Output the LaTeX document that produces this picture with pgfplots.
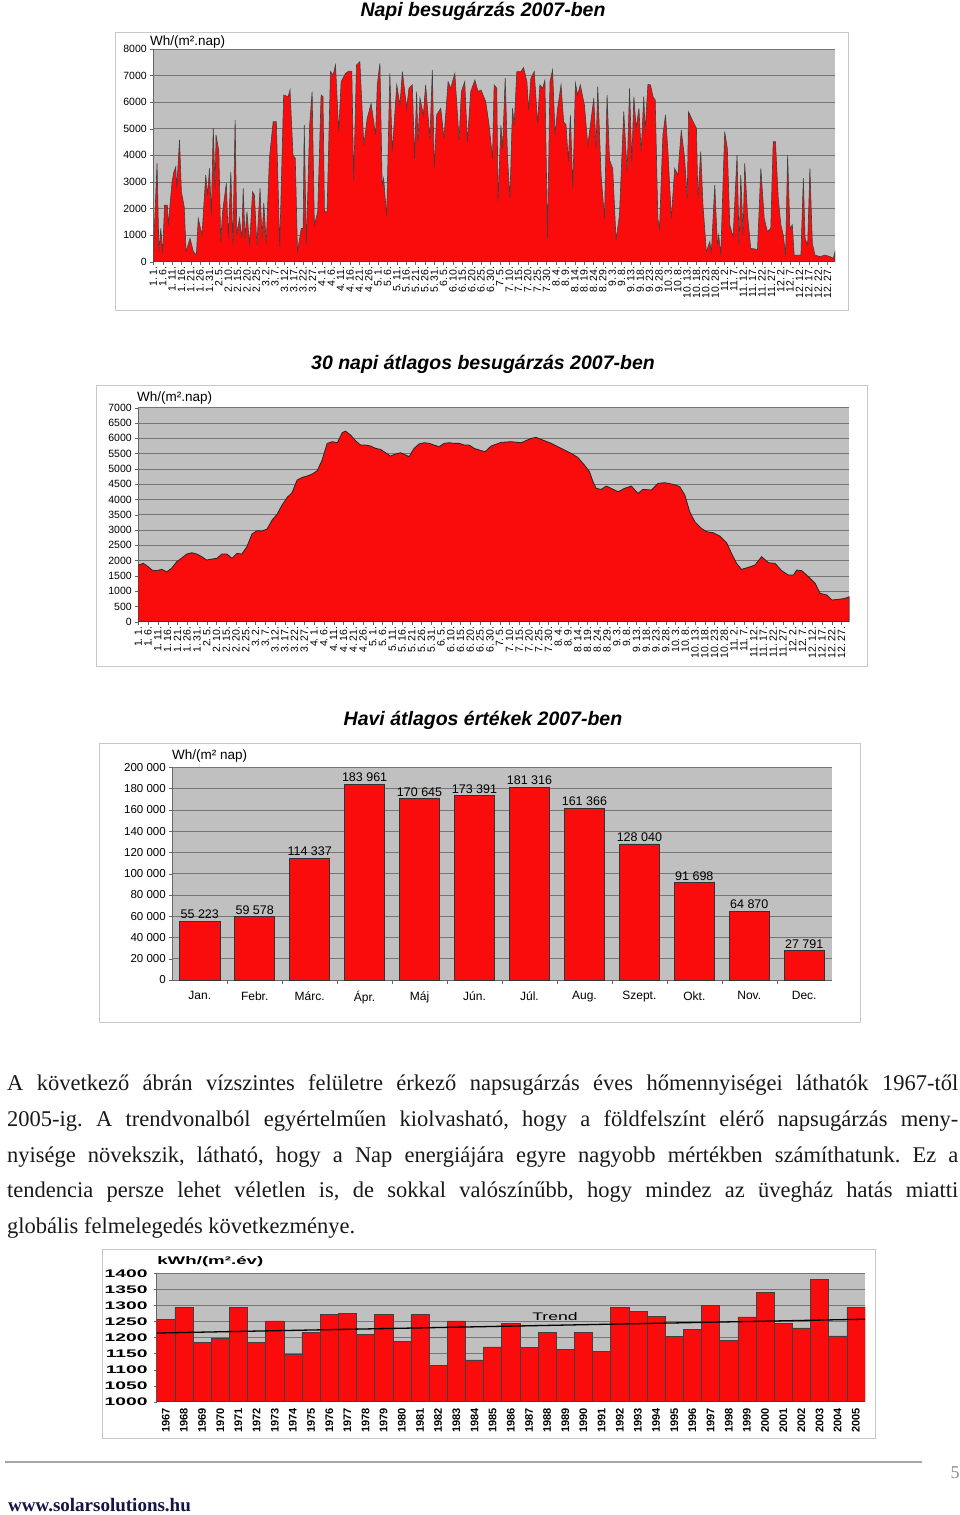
\documentclass[border=0pt]{standalone}
\usepackage{pgfplots}
\pgfplotsset{compat=1.18}
\usepackage{fontspec}
\setmainfont{Liberation Serif}
\newfontfamily\arial{Liberation Sans}
\frenchspacing

\definecolor{xred}{RGB}{250,12,12}
\definecolor{plotgray}{RGB}{192,192,192}
\definecolor{gridgray}{RGB}{118,118,118}
\definecolor{boxgray}{RGB}{200,200,200}

\newcommand{\cf}[1]{\arial\fontsize{#1}{#1}\selectfont}

\pgfplotsset{
  chart/.style={scale only axis, anchor=south west,
    axis background/.style={fill=plotgray},
    axis lines*=left, axis line style={draw=black!60, line width=0.6pt},
    ymajorgrids, grid style={draw=gridgray, line width=0.7pt},
    tick align=outside, tick style={draw=black!60}, major tick length=3pt,
    /pgf/number format/1000 sep={}, /pgf/number format/assume math mode=true,
    tick label style={text=black}},
  datelabels/.style={xtick={0,5,...,360},
    xticklabels={{1. 1.},{1. 6.},{1. 11.},{1. 16.},{1. 21.},{1. 26.},{1. 31.},{2. 5.},{2. 10.},{2. 15.},{2. 20.},{2. 25.},{3. 2.},{3. 7.},{3. 12.},{3. 17.},{3. 22.},{3. 27.},{4. 1.},{4. 6.},{4. 11.},{4. 16.},{4. 21.},{4. 26.},{5. 1.},{5. 6.},{5. 11.},{5. 16.},{5. 21.},{5. 26.},{5. 31.},{6. 5.},{6. 10.},{6. 15.},{6. 20.},{6. 25.},{6. 30.},{7. 5.},{7. 10.},{7. 15.},{7. 20.},{7. 25.},{7. 30.},{8. 4.},{8. 9.},{8. 14.},{8. 19.},{8. 24.},{8. 29.},{9. 3.},{9. 8.},{9. 13.},{9. 18.},{9. 23.},{9. 28.},{10. 3.},{10. 8.},{10. 13.},{10. 18.},{10. 23.},{10. 28.},{11. 2.},{11. 7.},{11. 12.},{11. 17.},{11. 22.},{11. 27.},{12. 2.},{12. 7.},{12. 12.},{12. 17.},{12. 22.},{12. 27.}},
    x tick label style={rotate=90, anchor=east, font=\cf{10.5}, inner sep=1.5pt}},
}

\begin{document}
\begin{tikzpicture}
\path[use as bounding box, fill=white] (0pt,0pt) rectangle (960pt,-1515pt);

% ---------- 1: daily ----------
\node[font=\cf{19.5}\bfseries\itshape] at (483pt,-11pt) {Napi besugárzás 2007-ben};
\draw[boxgray, line width=1pt] (115pt,-32pt) rectangle (848pt,-310pt);
\node[anchor=base west, font=\cf{13.5}, inner sep=0] at (150pt,-45pt) {Wh/(m².nap)};
\begin{axis}[chart, datelabels, at={(153.3pt,-261.7pt)}, width=681.7pt, height=212.7pt,
  xmin=0, xmax=364, ymin=0, ymax=8000, ytick={0,1000,...,8000},
  y tick label style={font=\cf{10.5}}]
\addplot[fill=xred, draw=black!75, line width=0.6pt] coordinates {
(0,250)(2,3700)(3,380)(4,1250)(5,310)(6,2130)(7.5,2130)(8,1380)(10,3000)(11,3380)(12,3570)(12.5,2760)(14,4580)(15,2630)(16.5,2070)(17.5,380)(19.6,880)(21.4,380)(23,250)(24,1630)(26,1000)(28,3260)(29,2500)(30,3510)(31,1750)(32,5020)(33,2760)(33.5,4770)(35,4140)(36,750)(37,1880)(39,2950)(40,880)(41.4,3380)(42.5,630)(43.7,5330)(44.6,1000)(46,1630)(47.3,880)(48,2760)(49,880)(50,1880)(51.4,630)(53,2630)(54,2500)(55.3,630)(57,2760)(58,880)(59,2200)(60.3,690)(62,3890)(64,5270)(65.7,5270)(67.5,560)(69.6,6270)(72,6210)(73,6460)(74.6,4010)(75.8,3890)(77,380)(79,1250)(80,1250)(80.6,5140)(81.7,630)(83.5,5140)(84.8,6400)(86,1380)(87.8,1880)(89.6,6270)(90.6,6210)(91.4,1880)(92.8,1880)(94.6,7150)(96,7020)(97.3,7400)(99,4890)(100.3,6770)(102.6,7080)(104.4,7170)(106,7150)(107,3070)(108.5,7400)(110.3,7520)(112.4,4390)(114.2,5390)(116.3,5950)(118.7,4770)(119.6,6650)(121,7460)(122.2,2880)(123,3140)(124.6,1690)(126.3,7080)(127.6,4140)(130,6650)(131.7,5890)(133,7150)(135.3,5770)(136.5,6520)(138.3,6650)(139.5,3890)(140.6,6400)(141.3,4510)(142.4,6150)(144.2,5520)(145.4,6650)(147.7,4640)(149,7210)(150,3510)(151.3,5520)(153.5,5770)(155.2,4640)(157.4,6770)(158.8,6520)(161,7080)(163.3,4580)(164.5,6400)(166.3,6770)(167.7,4510)(169.5,6400)(171.7,6830)(173.4,6400)(175,6460)(177.5,6020)(179.3,5140)(181.1,3890)(182,6650)(183.4,6520)(184.1,2260)(185.6,5140)(186.5,4260)(187.9,6900)(189.1,4010)(190.4,2380)(191.8,5770)(192.7,5140)(194.1,7150)(196.3,7150)(197.7,7300)(199.5,6770)(200.4,5700)(201.6,6900)(203.4,7150)(205.2,5200)(206.4,6650)(207.9,6520)(209.1,6830)(210.5,880)(211.8,6770)(213.2,7210)(214.5,4770)(215.9,5770)(217.7,6650)(219.1,5270)(220.4,5140)(221.6,3760)(222.7,5520)(224,2760)(225.4,6710)(226.6,6270)(228,6650)(230.2,5890)(232,4390)(233.4,5140)(235.2,6150)(236.4,4260)(237.3,6580)(239.1,3260)(240.9,1630)(242.3,6270)(243.6,3820)(245.3,3510)(247.1,815)(248.9,1750)(251.2,5640)(253,3380)(254.3,6520)(255.5,3760)(256.6,6210)(257.8,5020)(259.3,5770)(260.5,4140)(261.9,6210)(262.6,4890)(264.1,6670)(265.5,6650)(266.8,6210)(268,6080)(269.4,1630)(270.3,1250)(272.1,4770)(273.5,5520)(274.8,4140)(276.6,1630)(278.4,3510)(280.1,3260)(281.9,4950)(283.7,3890)(285.1,2380)(285.8,5640)(288.2,5270)(290,5020)(290.8,2380)(292.3,4140)(293.5,2130)(295.3,380)(297.1,750)(298,380)(299.8,2880)(301.2,630)(301.9,1000)(303,250)(305.1,4890)(306.5,4260)(307.8,1380)(309.6,940)(311.7,4010)(312.8,630)(313.7,3260)(314.9,1000)(315.8,3700)(317.3,1750)(319,500)(321.2,480)(322.6,440)(324.4,3510)(326.2,1630)(327.9,1130)(329.7,1250)(331,4510)(332.2,4510)(333.7,2380)(335.1,1380)(336.4,1000)(337.6,250)(338.7,4010)(339.9,1250)(341.2,1380)(342.2,250)(344,250)(345.8,250)(347.1,3140)(348,880)(349.4,630)(350.6,3510)(351.9,690)(353.3,250)(356,190)(358.6,250)(361.3,190)(363.1,125)(364,380)
} \closedcycle;
\end{axis}

% ---------- 2: 30-day average ----------
\node[font=\cf{19.5}\bfseries\itshape] at (483pt,-364pt) {30 napi átlagos besugárzás 2007-ben};
\draw[boxgray, line width=1pt] (96pt,-385pt) rectangle (867pt,-666pt);
\node[anchor=base west, font=\cf{13.5}, inner sep=0] at (137pt,-401pt) {Wh/(m².nap)};
\begin{axis}[chart, datelabels, at={(138.3pt,-621.7pt)}, width=711pt, height=214pt,
  xmin=0, xmax=364, ymin=0, ymax=7000, ytick={0,500,...,7000},
  y tick label style={font=\cf{10.5}}]
\addplot[fill=xred, draw=black!85, line width=0.8pt] coordinates {
(0,1854)(2.6,1908)(5,1800)(7,1690)(9.4,1668)(12,1712)(14.6,1635)(17,1745)(19.7,1963)(22,2072)(24.8,2213)(27.4,2257)(30,2213)(32.5,2126)(35,2017)(37.7,2050)(40.2,2072)(42.8,2213)(45.4,2213)(48,2072)(50.5,2235)(53,2213)(55.6,2453)(58.2,2868)(60.8,2977)(63.3,2966)(65.9,3031)(68.5,3326)(71,3511)(73.6,3816)(76.2,4067)(78.7,4220)(81.3,4634)(83.9,4721)(86.4,4765)(89,4830)(91.6,4939)(94.1,5288)(96.7,5834)(99.3,5888)(101.9,5855)(104.4,6183)(106,6237)(108.7,6106)(111.2,5921)(113.8,5779)(116.4,5779)(119,5746)(121.5,5670)(124,5637)(126.6,5528)(129,5419)(131.8,5485)(134.3,5528)(136.9,5452)(138.6,5397)(141.2,5670)(143.7,5812)(146.3,5855)(148.9,5834)(151.4,5779)(154,5725)(156.6,5834)(159.2,5855)(161.7,5834)(164.3,5834)(166.9,5779)(169.4,5779)(172,5670)(174.6,5616)(177.5,5560)(180.6,5746)(185.7,5866)(190.8,5888)(196,5855)(201.1,5997)(203.7,6030)(206.2,5964)(211.4,5834)(216.5,5670)(221.6,5507)(225,5376)(228.4,5125)(231,4907)(232.8,4580)(234.4,4362)(237,4329)(239.6,4438)(242.1,4362)(245.6,4253)(249,4362)(252.4,4438)(255.8,4198)(258.4,4329)(262.7,4307)(266.1,4525)(269.5,4547)(273.8,4493)(277.2,4416)(279.8,4143)(282.3,3598)(284.9,3271)(288.3,3053)(290.9,2944)(294.3,2911)(297.7,2802)(301.2,2584)(303.7,2235)(306.3,1908)(308.8,1712)(312.3,1777)(315.7,1854)(319.1,2126)(322.6,1930)(326,1908)(329.4,1668)(332.8,1527)(335.4,1527)(337.1,1690)(339.7,1668)(343.1,1472)(346.5,1254)(349.1,927)(352.5,872)(355.1,709)(358.5,731)(361.9,763)(364,818)
} \closedcycle;
\end{axis}

% ---------- 3: monthly ----------
\node[font=\cf{19.5}\bfseries\itshape] at (483pt,-720pt) {Havi átlagos értékek 2007-ben};
\draw[boxgray, line width=1pt] (99pt,-743pt) rectangle (860pt,-1022pt);
\node[anchor=base west, font=\cf{13.5}, inner sep=0] at (172pt,-759pt) {Wh/(m² nap)};
\begin{axis}[chart, at={(172.3pt,-980pt)}, width=659.4pt, height=212.7pt,
  xmin=-0.5, xmax=11.5, ymin=0, ymax=200000, scaled y ticks=false,
  ytick={0,20000,...,200000},
  yticklabels={0,20 000,40 000,60 000,80 000,100 000,120 000,140 000,160 000,180 000,200 000},
  y tick label style={font=\cf{11.5}},
  xtick={0,...,11}, major x tick style={draw=none},
  minor xtick={0.5,1.5,...,10.5}, minor tick length=4pt,
  xticklabels={Jan.,Febr.,Márc.,Ápr.,Máj,Jún.,Júl.,Aug.,Szept.,Okt.,Nov.,Dec.},
  x tick label style={font=\cf{12}, yshift=-5pt},
  ybar, bar width=0.73]
\addplot[fill=xred, draw=black!80, line width=0.6pt, nodes near coords,
  point meta=explicit symbolic, nodes near coords style={font=\cf{12.5}, inner sep=2pt}]
  coordinates {(0,55223)[55 223] (1,59578)[59 578] (2,114337)[114 337] (3,183961)[183 961]
  (4,170645)[170 645] (5,173391)[173 391] (6,181316)[181 316] (7,161366)[161 366]
  (8,128040)[128 040] (9,91698)[91 698] (10,64870)[64 870] (11,27791)[27 791]};
\end{axis}

% ---------- paragraph ----------
\begin{scope}[every node/.style={anchor=base west, inner sep=0, text=black!90,
  font=\fontsize{22.5}{22.5}\selectfont}]
\node at (7pt,-1090pt) {\makebox[951pt][s]{A következő ábrán vízszintes felületre érkező napsugárzás éves hőmennyiségei láthatók 1967-től}};
\node at (7pt,-1126pt) {\makebox[951pt][s]{2005-ig. A trendvonalból egyértelműen kiolvasható, hogy a földfelszínt elérő napsugárzás meny-}};
\node at (7pt,-1162pt) {\makebox[951pt][s]{nyisége növekszik, látható, hogy a Nap energiájára egyre nagyobb mértékben számíthatunk. Ez a}};
\node at (7pt,-1197pt) {\makebox[951pt][s]{tendencia persze lehet véletlen is, de sokkal valószínűbb, hogy mindez az üvegház hatás miatti}};
\node at (7pt,-1233pt) {globális felmelegedés következménye.};
\end{scope}

% ---------- 4: yearly ----------
\draw[boxgray, line width=1pt] (102pt,-1249pt) rectangle (875pt,-1438pt);
\node[anchor=base west, font=\cf{11}\bfseries, inner sep=0, xscale=1.7] at (157pt,-1264pt) {kWh/(m².év)};
\begin{axis}[chart, at={(156.7pt,-1401.7pt)}, width=708.3pt, height=128.4pt,
  xmin=1966.5, xmax=2005.5, ymin=1000, ymax=1400, ytick={1000,1050,...,1400},
  y tick label style={font=\cf{11}\bfseries, xscale=1.75},
  xtick={1967,...,2005}, major x tick style={draw=none},
  x tick label style={rotate=90, anchor=east, font=\cf{11}\bfseries},
  bar width=1]
\addplot[ybar, fill=xred, draw=black!75, line width=0.6pt] coordinates {
(1967,1256)(1968,1293)(1969,1185)(1970,1199)(1971,1293)(1972,1185)(1973,1252)(1974,1148)(1975,1216)(1976,1272)(1977,1275)(1978,1210)(1979,1272)(1980,1187)(1981,1271)(1982,1112)(1983,1252)(1984,1130)(1985,1171)(1986,1245)(1987,1168)(1988,1216)(1989,1164)(1990,1216)(1991,1158)(1992,1293)(1993,1281)(1994,1266)(1995,1204)(1996,1225)(1997,1300)(1998,1190)(1999,1264)(2000,1340)(2001,1243)(2002,1230)(2003,1380)(2004,1205)(2005,1295)};
\addplot[black, line width=1.3pt] coordinates {(1966.5,1214)(2005.5,1257)};
\end{axis}
\node[font=\cf{11}, xscale=1.6] at (555pt,-1317pt) {Trend};

% ---------- footer ----------
\draw[black!35, line width=1.8pt] (5pt,-1462pt) -- (922pt,-1462pt);
\node[text=black!45, font=\fontsize{18}{18}\selectfont] at (955pt,-1473pt) {5};
\node[anchor=base west, inner sep=0, text={rgb,255:red,20;green,20;blue,70},
  font=\fontsize{19}{19}\selectfont\bfseries] at (8pt,-1511pt) {www.solarsolutions.hu};
\end{tikzpicture}
\end{document}
